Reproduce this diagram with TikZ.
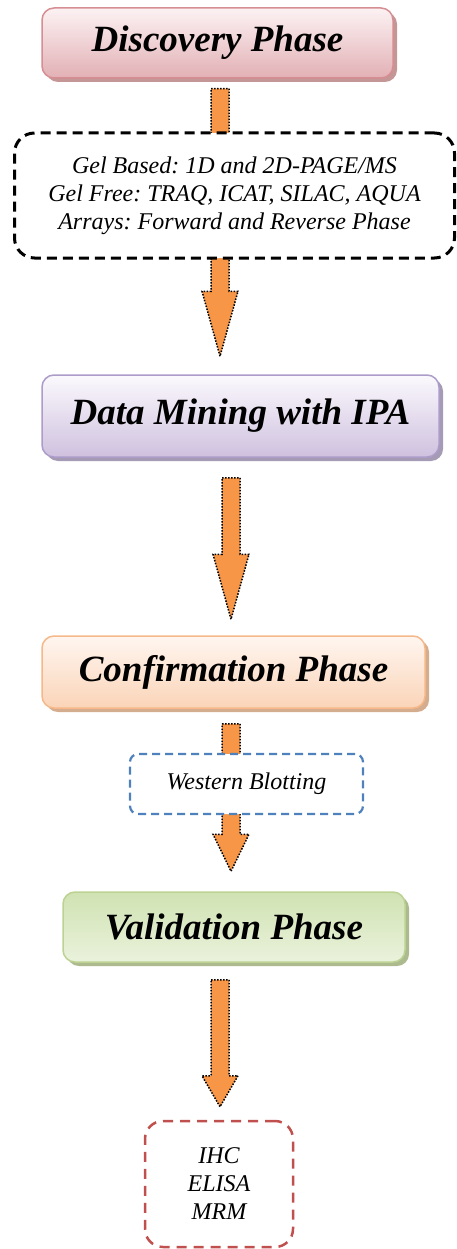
\documentclass[tikz,border=0pt]{standalone}
\usepackage{fontspec}
\setmainfont{Liberation Serif}
\usetikzlibrary{calc,shadows,backgrounds}
\definecolor{arrorange}{RGB}{247,150,70}
\definecolor{discline}{RGB}{214,142,146}
\definecolor{disctop}{RGB}{252,242,243}
\definecolor{discbot}{RGB}{226,176,181}
\definecolor{discshade}{RGB}{196,150,150}
\definecolor{minline}{RGB}{172,156,202}
\definecolor{mintop}{RGB}{251,249,253}
\definecolor{minbot}{RGB}{207,193,223}
\definecolor{minshade}{RGB}{165,155,180}
\definecolor{confline}{RGB}{246,184,136}
\definecolor{conftop}{RGB}{255,246,240}
\definecolor{confbot}{RGB}{250,212,184}
\definecolor{confshade}{RGB}{212,172,142}
\definecolor{valline}{RGB}{188,210,146}
\definecolor{valtop}{RGB}{208,226,178}
\definecolor{valbot}{RGB}{234,242,220}
\definecolor{valshade}{RGB}{172,186,142}
\definecolor{wbblue}{RGB}{79,129,189}
\definecolor{redline}{RGB}{192,80,77}
\frenchspacing

\begin{document}
\begin{tikzpicture}[x=1pt,y=-1pt,
  phase/.style={rectangle, rounded corners=12pt, line width=1.5pt, inner sep=0pt,
    draw=#1line, top color=#1top, bottom color=#1bot,
    drop shadow={fill=#1shade, opacity=1, shadow xshift=4pt, shadow yshift=-4pt},
    font=\fontsize{37}{40}\selectfont\bfseries\itshape},
  methods/.style={rectangle, fill=white, inner sep=0pt, align=center,
    font=\fontsize{24}{28}\selectfont\itshape},
  blockarrow/.style={fill=arrorange, draw=black, line width=1.5pt, dash pattern=on 1.5pt off 1.5pt}]
\useasboundingbox (0,0) rectangle (457,1249);
% phases
\node[phase=disc, minimum width=351pt, minimum height=70pt] (discovery) at (217.5,43) {Discovery Phase};
\node[phase=min, minimum width=397pt, minimum height=82pt] (mining) at (240.5,416) {Data Mining with IPA};
\node[phase=conf, minimum width=383pt, minimum height=72pt] (confirm) at (233.5,672) {Confirmation Phase};
\node[phase=val, minimum width=342pt, minimum height=70pt] (validate) at (234,927) {Validation Phase};
% methods
\node[methods, draw=black, line width=3pt, dash pattern=on 10pt off 6pt, rounded corners=20pt,
  minimum width=440pt, minimum height=125pt] (gel) at (234.5,195.5)
  {Gel Based: 1D and 2D-PAGE/MS\\Gel Free: TRAQ, ICAT, SILAC, AQUA\\Arrays: Forward and Reverse Phase};
\node[methods, draw=wbblue, line width=2.2pt, dash pattern=on 8pt off 5pt, rounded corners=8pt,
  minimum width=233pt, minimum height=60pt] (western) at (246.5,784) {Western Blotting};
\node[methods, draw=redline, line width=2.5pt, dash pattern=on 10pt off 7pt, rounded corners=18pt,
  minimum width=148pt, minimum height=126pt] (assays) at (219,1184) {IHC\\ELISA\\MRM};
% arrows
\begin{pgfonlayer}{background}
\foreach \src/\dst/\dx/\gapa/\gapb/\head in
  {discovery/mining/2.5/10/18/65, mining/confirm/-9.5/20/16/65,
   confirm/validate/-2.5/15/20/37, validate/assays/-14/17/13/31}
{
\path[blockarrow] let \p1=($(\src.south)+(\dx,\gapa)$), \p2=($(\dst.north)+(0,-\gapb)$) in
  ({\x1-9pt},\y1) -- ({\x1+9pt},\y1) -- ({\x1+9pt},{\y2+\head*1pt}) -- ({\x1+18pt},{\y2+\head*1pt})
  -- (\x1,\y2) -- ({\x1-18pt},{\y2+\head*1pt}) -- ({\x1-9pt},{\y2+\head*1pt}) -- cycle;
}
\end{pgfonlayer}
\end{tikzpicture}
\end{document}
